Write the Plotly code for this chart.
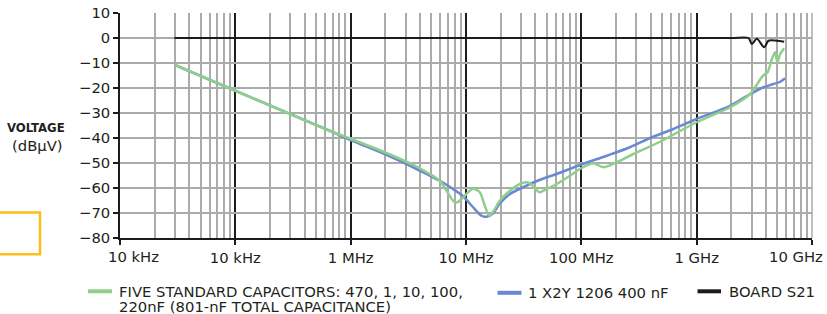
import plotly.graph_objects as go

# ---------------- data ----------------
freq_green = [29.6e3, 1.00e5, 6.58e5, 1.00e6, 1.97e6, 3.05e6, 3.97e6, 4.85e6, 5.93e6,
              6.78e6, 7.73e6, 8.32e6, 9.12e6, 1.01e7, 1.148e7, 1.318e7, 1.455e7, 1.585e7,
              1.718e7, 1.963e7, 2.40e7, 2.93e7, 3.35e7, 3.82e7, 4.31e7, 5.00e7, 6.11e7,
              7.96e7, 9.72e7, 1.268e8, 1.549e8, 2.02e8, 2.82e8, 4.81e8, 1.00e9, 1.95e9,
              2.91e9, 3.21e9, 3.67e9, 3.93e9, 4.12e9, 4.49e9, 4.79e9, 5.01e9, 5.30e9, 5.74e9]
db_green = [-10.7, -21.1, -37.1, -40.3, -45.7, -49.5, -52.1, -54.4, -57.1,
            -61.1, -65.1, -65.8, -64.5, -62.4, -60.3, -61.7, -67.1, -71.0,
            -69.5, -65.1, -61.1, -58.4, -57.7, -59.1, -61.7, -60.4, -58.4,
            -55.1, -52.4, -50.1, -51.7, -49.7, -46.4, -41.5, -33.7, -27.7,
            -22.4, -19.7, -15.7, -14.4, -13.8, -8.4, -5.7, -9.7, -6.4, -4.1]

freq_blue = [29.6e3, 1.00e5, 6.58e5, 1.00e6, 1.97e6, 3.05e6, 4.85e6, 5.93e6, 7.73e6,
             9.44e6, 1.153e7, 1.365e7, 1.507e7, 1.718e7, 1.963e7, 2.40e7, 3.13e7, 4.38e7,
             6.11e7, 9.72e7, 1.66e8, 2.64e8, 3.94e8, 6.28e8, 1.00e9, 1.95e9, 2.91e9,
             3.80e9, 4.63e9, 5.30e9, 5.85e9]
db_blue = [-10.7, -21.1, -37.1, -40.8, -46.4, -50.4, -55.1, -57.1, -60.4,
           -63.3, -67.7, -71.1, -71.5, -70.1, -66.2, -62.4, -59.7, -56.7,
           -54.4, -50.8, -47.1, -43.7, -40.0, -36.4, -32.4, -27.1, -22.4,
           -19.7, -18.4, -17.5, -16.1]

freq_black = [29.6e3, 1.0e6, 1.0e8, 2.0e9, 2.81e9, 3.01e9, 3.33e9, 3.85e9, 4.19e9, 4.95e9, 5.74e9]
db_black = [0, 0, 0, 0, 0, -2.4, -0.3, -3.7, -1.1, -1.1, -1.5]

series_names = ["FIVE STANDARD CAPACITORS: 470, 1, 10, 100,",
                "220nF (801-nF TOTAL CAPACITANCE)",
                "1 X2Y 1206 400 nF",
                "BOARD S21"]

x_tick_vals = [1e4, 1e5, 1e6, 1e7, 1e8, 1e9, 1e10]
x_tick_text = ["10 kHz", "10 kHz", "1 MHz", "10 MHz", "100 MHz", "1 GHz", "10 GHz"]
y_tick_vals = [-80, -70, -60, -50, -40, -30, -20, -10, 0, 10]
minor_vals = [m * 10 ** e for e in range(4, 10) for m in range(2, 10)]

# ---------------- style ----------------
GREEN = "#8fcf8b"
BLUE = "#6a89d2"
BLACK = "#1c1c1c"
GRID = "#ababab"
TXT = "#231f20"
FONT = "DejaVu Sans"
FS = 14.8

W, H = 827, 314
ML, MR, MT, MB = 120, 15, 13, 76
PW = W - ML - MR
PH = H - MT - MB


def px(x):
    return (x - ML) / PW


def py(y):
    return (H - MB - y) / PH


fig = go.Figure()
fig.add_trace(go.Scatter(x=freq_blue, y=db_blue, mode="lines", name=series_names[2],
                         line=dict(color=BLUE, width=2.5, shape="spline", smoothing=0.8),
                         showlegend=False))
fig.add_trace(go.Scatter(x=freq_green, y=db_green, mode="lines", name=series_names[0],
                         line=dict(color=GREEN, width=2.5, shape="spline", smoothing=0.8),
                         showlegend=False))
fig.add_trace(go.Scatter(x=freq_black, y=db_black, mode="lines", name=series_names[3],
                         line=dict(color=BLACK, width=2, shape="spline", smoothing=0.8),
                         showlegend=False))

# middle tick labels from the axis; the two end labels are nudged inward as in the reference
mid_text = [""] + x_tick_text[1:-1] + [""]

fig.update_layout(
    width=W, height=H,
    margin=dict(l=ML, r=MR, t=MT, b=MB, autoexpand=False),
    paper_bgcolor="white", plot_bgcolor="white",
    font=dict(family=FONT, size=FS, color=TXT),
    showlegend=False,
    xaxis=dict(type="log", range=[4, 10], tickvals=x_tick_vals,
               ticktext=mid_text,
               showgrid=True, gridcolor=BLACK, gridwidth=1.5,
               minor=dict(tickvals=minor_vals, showgrid=True, gridcolor=GRID, gridwidth=1.5, ticks=""),
               showline=True, linecolor=BLACK, linewidth=1.5,
               ticks="outside", ticklen=5, tickcolor=BLACK, tickwidth=1.5,
               zeroline=False, tickfont=dict(size=FS, family=FONT, color=TXT)),
    yaxis=dict(range=[-80, 10], tickvals=y_tick_vals,
               showgrid=True, gridcolor=GRID, gridwidth=1.5,
               showline=True, linecolor=BLACK, linewidth=1.5,
               ticks="outside", ticklen=5, tickcolor=BLACK, tickwidth=1.5,
               zeroline=False, tickfont=dict(size=FS, family=FONT, color=TXT)),
)

shapes = []
# right border gray (over decade gridline)
shapes.append(dict(type="line", xref="paper", yref="paper", x0=1, x1=1, y0=0, y1=1,
                   line=dict(color=GRID, width=1.5)))
# orange box at left
shapes.append(dict(type="rect", xref="paper", yref="paper", x0=px(-6), x1=px(40), y0=py(254.3), y1=py(212.5),
                   line=dict(color="#fdbe1a", width=2.5), fillcolor="rgba(0,0,0,0)"))
# legend samples
for (x0, x1, yy, c) in [(88, 112, 291.3, GREEN), (497.5, 521.5, 292.8, BLUE), (697.5, 721, 291.3, BLACK)]:
    shapes.append(dict(type="line", xref="paper", yref="paper", x0=px(x0), x1=px(x1), y0=py(yy), y1=py(yy),
                       line=dict(color=c, width=4)))
fig.update_layout(shapes=shapes)

ann = []
# end x tick labels (shifted inward as in reference)
ann.append(dict(text=x_tick_text[0], xref="paper", yref="paper", x=px(106), y=py(256),
                xanchor="left", yanchor="middle", showarrow=False, font=dict(size=FS, family=FONT, color=TXT)))
ann.append(dict(text=x_tick_text[-1], xref="paper", yref="paper", x=px(825), y=py(256),
                xanchor="right", yanchor="middle", showarrow=False, font=dict(size=FS, family=FONT, color=TXT)))
# y axis title
ann.append(dict(text="<b>VOLTAGE</b>", xref="paper", yref="paper", x=px(35.5), y=py(128),
                xanchor="center", yanchor="middle", showarrow=False,
                font=dict(size=13, family="DejaVu Sans Condensed", color=TXT)))
ann.append(dict(text="(dBμV)", xref="paper", yref="paper", x=px(37), y=py(145),
                xanchor="center", yanchor="middle", showarrow=False, font=dict(size=FS, family=FONT, color=TXT)))
# legend texts
for (txt, x, y) in [(series_names[0], 117.3, 291.3), (series_names[1], 117.3, 306.5),
                    (series_names[2], 525.7, 292.5), (series_names[3], 726.7, 291.3)]:
    ann.append(dict(text=txt, xref="paper", yref="paper", x=px(x), y=py(y),
                    xanchor="left", yanchor="middle", showarrow=False,
                    font=dict(size=FS, family=FONT, color=TXT)))
fig.update_layout(annotations=ann)

fig.write_html("out.html", config={"displayModeBar": False},
               post_script="document.body.style.margin='0';document.body.style.overflow='hidden';")
